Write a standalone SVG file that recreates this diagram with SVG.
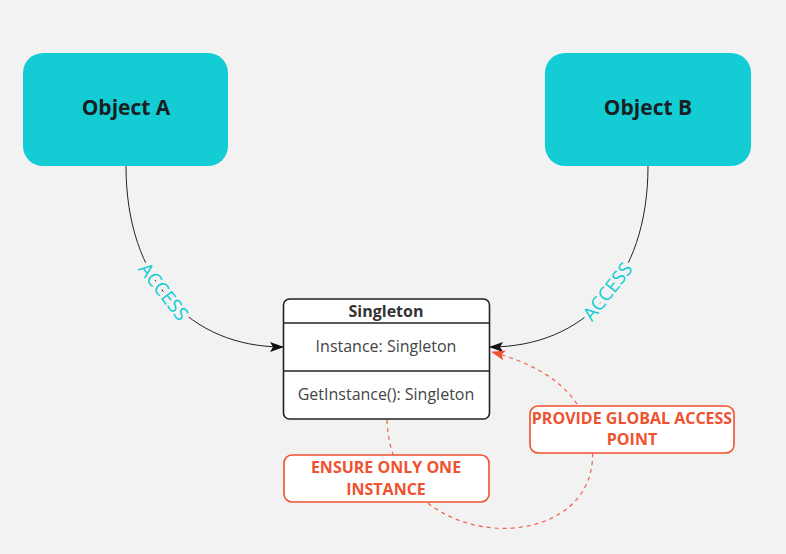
<svg xmlns="http://www.w3.org/2000/svg" width="786" height="554" viewBox="0 0 786 554">
<style>
.obj{fill:#14cdd4;}
.objt{font-family:"Open Sans",sans-serif;font-weight:bold;font-size:21px;fill:#1a1f24;text-anchor:middle;}
.cls{fill:#fff;stroke:#222;stroke-width:1.6;}
.hd{font-family:"Open Sans",sans-serif;font-weight:bold;font-size:16px;fill:#333;text-anchor:middle;}
.mb{font-family:"Open Sans",sans-serif;font-size:16px;fill:#444;text-anchor:middle;}
.note{fill:#fff;stroke:#f0512f;stroke-width:1.6;}
.nt{font-family:"Open Sans",sans-serif;font-weight:bold;font-size:16px;fill:#f0512f;text-anchor:middle;}
.conn{fill:none;stroke:#222;stroke-width:1;}
.dash{fill:none;stroke:#f0604a;stroke-width:1.2;stroke-dasharray:4 4;}
.lbl{font-family:"Open Sans",sans-serif;font-size:19px;fill:#14cdd4;text-anchor:middle;stroke:#f2f2f2;stroke-width:8;paint-order:stroke;}
</style>
<defs>
<marker id="ab" markerWidth="14" markerHeight="10" refX="13" refY="5" orient="auto" markerUnits="userSpaceOnUse"><path d="M0,0 L14,5 L0,10 L3,5 Z" fill="#111"/></marker>
<marker id="ar" markerWidth="14" markerHeight="10" refX="13" refY="5" orient="auto" markerUnits="userSpaceOnUse"><path d="M0,0 L14,5 L0,10 L3,5 Z" fill="#f0512f"/></marker>
</defs>
<rect width="786" height="554" fill="#f2f2f2"/>
<g id="connectors">
<path class="conn" d="M126,166 C126,280 190,347 283,347" marker-end="url(#ab)"/>
<path class="conn" d="M648,166 C648,280 584,347 490,347" marker-end="url(#ab)"/>
<path class="dash" d="M387,420 C392,560 605,560 592,445 C585,390 540,365 492,352" marker-end="url(#ar)"/>
<text class="lbl" transform="translate(163,292) rotate(52)" dy="6">ACCESS</text>
<text class="lbl" transform="translate(608,292) rotate(-52)" dy="6">ACCESS</text>
</g>
<g id="objectA">
<rect class="obj" x="23" y="53" width="205" height="113" rx="20"/>
<text class="objt" x="126" y="115">Object A</text>
</g>
<g id="objectB">
<rect class="obj" x="545" y="53" width="206" height="113" rx="20"/>
<text class="objt" x="648" y="115">Object B</text>
</g>
<g id="singleton">
<rect class="cls" x="283.5" y="299" width="206" height="120" rx="6"/>
<line x1="283.5" y1="323" x2="489.5" y2="323" stroke="#222" stroke-width="1.6"/>
<line x1="283.5" y1="371" x2="489.5" y2="371" stroke="#222" stroke-width="1.6"/>
<text class="hd" x="386" y="317">Singleton</text>
<text class="mb" x="386" y="352">Instance: Singleton</text>
<text class="mb" x="386" y="400">GetInstance(): Singleton</text>
</g>
<g id="ensure">
<rect class="note" x="284" y="455" width="205" height="47" rx="8"/>
<text class="nt" x="386" y="473">ENSURE ONLY ONE</text>
<text class="nt" x="386" y="495">INSTANCE</text>
</g>
<g id="provide">
<rect class="note" x="530" y="406" width="204" height="47" rx="8"/>
<text class="nt" x="632" y="424">PROVIDE GLOBAL ACCESS</text>
<text class="nt" x="632" y="445">POINT</text>
</g>
</svg>
